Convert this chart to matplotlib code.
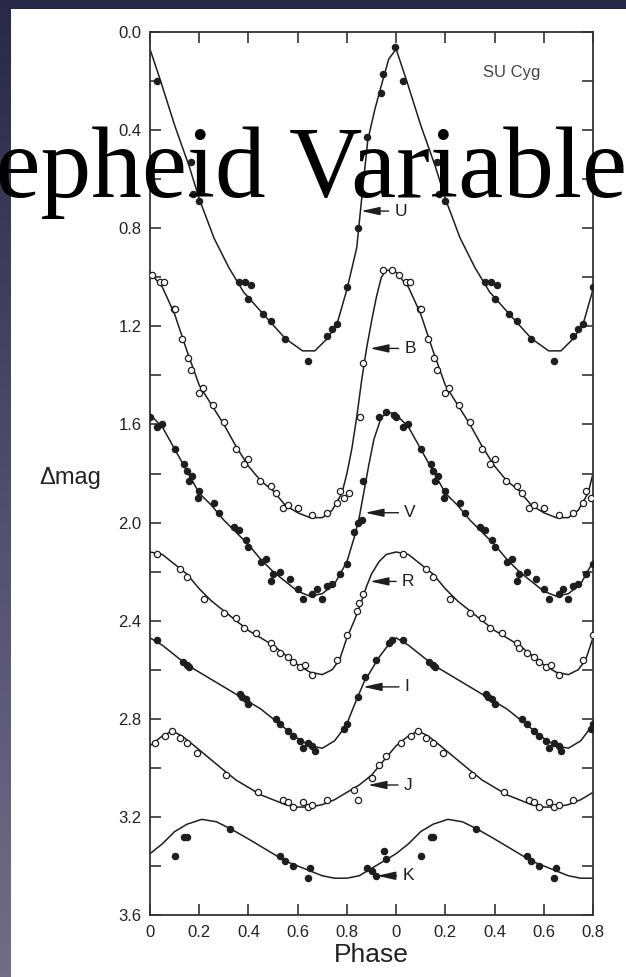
import numpy as np
import matplotlib.pyplot as plt
from matplotlib.patches import Rectangle

plt.rcParams['font.family'] = 'Liberation Sans'

# Fitted light curves over one pulsation cycle (phase, delta mag)
u_fit_phase = [0.00, 0.04, 0.10, 0.16, 0.20, 0.26, 0.32, 0.38, 0.46, 0.55, 0.62, 0.67,
               0.72, 0.76, 0.80, 0.84, 0.86, 0.885, 0.915, 0.945, 0.97]
u_fit_mag = [0.07, 0.19, 0.38, 0.55, 0.68, 0.84, 0.96, 1.06, 1.15, 1.25, 1.30, 1.30,
             1.25, 1.19, 1.05, 0.88, 0.68, 0.44, 0.31, 0.20, 0.11]

b_fit_phase = [0.00, 0.05, 0.10, 0.15, 0.20, 0.25, 0.30, 0.35, 0.40, 0.45, 0.50, 0.55, 0.60,
               0.65, 0.70, 0.74, 0.78, 0.80, 0.82, 0.84, 0.86, 0.88, 0.90, 0.92, 0.94, 0.96]
b_fit_mag = [0.98, 1.04, 1.15, 1.30, 1.44, 1.52, 1.60, 1.69, 1.77, 1.83, 1.87, 1.93, 1.96,
             1.98, 1.98, 1.95, 1.88, 1.80, 1.70, 1.57, 1.42, 1.29, 1.18, 1.08, 1.00, 0.97]

v_fit_phase = [0.00, 0.05, 0.10, 0.15, 0.20, 0.25, 0.30, 0.35, 0.40, 0.45, 0.50, 0.55,
               0.60, 0.65, 0.70, 0.75, 0.80, 0.83, 0.85, 0.87, 0.89, 0.91, 0.94, 0.97]
v_fit_mag = [1.56, 1.61, 1.70, 1.79, 1.88, 1.93, 1.99, 2.04, 2.09, 2.15, 2.20, 2.24,
             2.28, 2.30, 2.29, 2.25, 2.16, 2.06, 1.98, 1.87, 1.76, 1.66, 1.57, 1.55]

r_fit_phase = [0.00, 0.05, 0.10, 0.15, 0.20, 0.25, 0.30, 0.35, 0.40, 0.45, 0.50, 0.55,
               0.60, 0.65, 0.70, 0.74, 0.77, 0.80, 0.83, 0.86, 0.88, 0.90, 0.93, 0.96]
r_fit_mag = [2.12, 2.13, 2.17, 2.21, 2.27, 2.32, 2.36, 2.40, 2.44, 2.47, 2.50, 2.54,
             2.58, 2.61, 2.62, 2.60, 2.56, 2.47, 2.40, 2.32, 2.26, 2.21, 2.16, 2.13]

i_fit_phase = [0.00, 0.05, 0.10, 0.15, 0.20, 0.25, 0.30, 0.35, 0.40, 0.45, 0.50, 0.55,
               0.60, 0.65, 0.70, 0.75, 0.78, 0.80, 0.82, 0.84, 0.87, 0.90, 0.93, 0.96]
i_fit_mag = [2.47, 2.50, 2.54, 2.58, 2.61, 2.64, 2.67, 2.70, 2.73, 2.76, 2.80, 2.84,
             2.88, 2.91, 2.92, 2.89, 2.85, 2.82, 2.77, 2.72, 2.65, 2.60, 2.55, 2.51]

j_fit_phase = [0.00, 0.05, 0.09, 0.13, 0.18, 0.24, 0.30, 0.35, 0.40, 0.45, 0.50, 0.55,
               0.60, 0.65, 0.70, 0.75, 0.80, 0.85, 0.90, 0.95]
j_fit_mag = [2.91, 2.87, 2.85, 2.87, 2.91, 2.96, 3.01, 3.05, 3.08, 3.11, 3.13, 3.15,
             3.16, 3.16, 3.15, 3.13, 3.10, 3.07, 3.03, 2.97]

k_fit_phase = [0.00, 0.05, 0.10, 0.15, 0.21, 0.27, 0.33, 0.40, 0.45, 0.50, 0.55, 0.60,
               0.65, 0.70, 0.75, 0.80, 0.85, 0.90, 0.95]
k_fit_mag = [3.35, 3.31, 3.26, 3.23, 3.21, 3.22, 3.25, 3.29, 3.32, 3.35, 3.38, 3.40,
             3.42, 3.44, 3.45, 3.45, 3.44, 3.41, 3.38]

# Observations folded on the period
u_obs_phase = [0.03, 0.165, 0.175, 0.20, 0.36, 0.385, 0.41, 0.40, 0.46, 0.49, 0.55, 0.64,
               0.72, 0.74, 0.76, 0.80, 0.845, 0.88, 0.94, 0.945, 0.995]
u_obs_mag = [0.20, 0.53, 0.66, 0.69, 1.02, 1.02, 1.03, 1.09, 1.15, 1.18, 1.25, 1.34,
             1.24, 1.21, 1.19, 1.04, 0.80, 0.43, 0.25, 0.17, 0.06]

b_obs_phase = [0.01, 0.04, 0.057, 0.097, 0.10, 0.13, 0.155, 0.165, 0.20, 0.215, 0.255, 0.30,
               0.35, 0.38, 0.40, 0.445, 0.49, 0.51, 0.54, 0.56, 0.60, 0.66, 0.72, 0.76,
               0.77, 0.79, 0.81, 0.853, 0.866, 0.945, 0.985]
b_obs_mag = [0.99, 1.02, 1.02, 1.13, 1.13, 1.25, 1.33, 1.38, 1.47, 1.45, 1.52, 1.59,
             1.70, 1.76, 1.74, 1.83, 1.85, 1.88, 1.94, 1.93, 1.94, 1.97, 1.96, 1.92,
             1.87, 1.90, 1.88, 1.57, 1.35, 0.97, 0.97]

v_obs_phase = [0.00, 0.03, 0.05, 0.10, 0.14, 0.15, 0.16, 0.17, 0.195, 0.20, 0.26, 0.28,
               0.34, 0.36, 0.39, 0.40, 0.45, 0.47, 0.49, 0.50, 0.53, 0.57, 0.60, 0.62,
               0.66, 0.68, 0.70, 0.72, 0.74, 0.77, 0.80, 0.83, 0.845, 0.86, 0.866, 0.93,
               0.96, 0.99]
v_obs_mag = [1.57, 1.61, 1.60, 1.70, 1.76, 1.79, 1.83, 1.81, 1.90, 1.87, 1.92, 1.96,
             2.02, 2.03, 2.07, 2.10, 2.16, 2.15, 2.24, 2.21, 2.20, 2.23, 2.27, 2.31,
             2.29, 2.27, 2.31, 2.26, 2.25, 2.21, 2.17, 2.04, 2.00, 1.99, 1.83, 1.57,
             1.55, 1.56]

r_obs_phase = [0.03, 0.12, 0.15, 0.22, 0.30, 0.35, 0.38, 0.43, 0.49, 0.50, 0.53, 0.56,
               0.58, 0.61, 0.63, 0.66, 0.76, 0.80, 0.84, 0.85, 0.866]
r_obs_mag = [2.13, 2.19, 2.22, 2.31, 2.37, 2.39, 2.43, 2.45, 2.49, 2.51, 2.53, 2.55,
             2.57, 2.59, 2.58, 2.62, 2.56, 2.46, 2.36, 2.33, 2.29]

i_obs_phase = [0.03, 0.135, 0.15, 0.16, 0.365, 0.375, 0.39, 0.40, 0.51, 0.53, 0.56, 0.58,
               0.61, 0.62, 0.64, 0.66, 0.67, 0.79, 0.80, 0.845, 0.874, 0.92, 0.97, 0.985]
i_obs_mag = [2.48, 2.57, 2.58, 2.59, 2.70, 2.71, 2.72, 2.74, 2.80, 2.82, 2.85, 2.87,
             2.89, 2.92, 2.90, 2.91, 2.93, 2.84, 2.82, 2.71, 2.63, 2.56, 2.49, 2.48]

j_obs_phase = [0.02, 0.06, 0.09, 0.12, 0.15, 0.19, 0.31, 0.44, 0.54, 0.56, 0.58, 0.62,
               0.64, 0.66, 0.72, 0.83, 0.845, 0.90, 0.93, 0.96]
j_obs_mag = [2.90, 2.87, 2.85, 2.88, 2.90, 2.94, 3.03, 3.10, 3.13, 3.14, 3.16, 3.14,
             3.16, 3.15, 3.13, 3.09, 3.13, 3.04, 2.99, 2.95]

k_obs_phase = [0.10, 0.14, 0.15, 0.325, 0.53, 0.55, 0.58, 0.64, 0.65, 0.88, 0.90, 0.92,
               0.95, 0.96]
k_obs_mag = [3.36, 3.28, 3.28, 3.25, 3.36, 3.38, 3.40, 3.45, 3.41, 3.41, 3.42, 3.44,
             3.34, 3.37]

# Band labels with an arrow pointing at each curve
band_labels = ['U', 'B', 'V', 'R', 'I', 'J', 'K']
label_tip_phase = [0.858, 0.894, 0.874, 0.894, 0.866, 0.886, 0.922]
label_mag = [0.73, 1.29, 1.96, 2.24, 2.67, 3.07, 3.44]
label_text_phase = [1.018, 1.056, 1.056, 1.048, 1.044, 1.048, 1.048]

phase_ticks = [0.0, 0.2, 0.4, 0.6, 0.8, 1.0, 1.2, 1.4, 1.6, 1.8]
phase_tick_labels = ['0', '0.2', '0.4', '0.6', '0.8', '0', '0.2', '0.4', '0.6', '0.8']
mag_ticks = [0.0, 0.4, 0.8, 1.2, 1.6, 2.0, 2.4, 2.8, 3.2, 3.6]


def two_cycles(phase, mag):
    # repeat the folded cycle and cut it at phase 1.8
    p = np.concatenate([phase, np.asarray(phase) + 1.0])
    m = np.concatenate([mag, mag])
    keep = p <= 1.8001
    return p[keep], m[keep]


fig = plt.figure(figsize=(6.26, 9.77), dpi=100)
fig.patch.set_facecolor('white')

# dark slide frame: top band and shaded strip on the left
fig.add_artist(Rectangle((0, 1 - 9 / 977), 1, 9 / 977, transform=fig.transFigure,
                         facecolor='#272747', edgecolor='none', zorder=0))
strip = fig.add_axes([0, 0, 11 / 626, 1 - 9 / 977])
strip.imshow(np.linspace(0, 1, 256).reshape(-1, 1), aspect='auto',
             cmap=plt.matplotlib.colors.LinearSegmentedColormap.from_list(
                 'strip', ['#29294a', '#504e6e', '#716d88']))
strip.axis('off')

ax = fig.add_axes([150 / 626, 1 - 915 / 977, 443 / 626, 883 / 977])

ink = '#1e1e1e'
bands = [
    (u_fit_phase, u_fit_mag, u_obs_phase, u_obs_mag, True),
    (b_fit_phase, b_fit_mag, b_obs_phase, b_obs_mag, False),
    (v_fit_phase, v_fit_mag, v_obs_phase, v_obs_mag, True),
    (r_fit_phase, r_fit_mag, r_obs_phase, r_obs_mag, False),
    (i_fit_phase, i_fit_mag, i_obs_phase, i_obs_mag, True),
    (j_fit_phase, j_fit_mag, j_obs_phase, j_obs_mag, False),
    (k_fit_phase, k_fit_mag, k_obs_phase, k_obs_mag, True),
]
for fit_p, fit_m, obs_p, obs_m, filled in bands:
    p, m = two_cycles(fit_p, fit_m)
    ax.plot(p, m, color=ink, lw=1.1, zorder=2)
    p, m = two_cycles(obs_p, obs_m)
    ax.plot(p, m, 'o', ms=4.5, mec=ink, mew=0.9,
            mfc=ink if filled else 'white', zorder=3)

for name, tip_p, mag, text_p in zip(band_labels, label_tip_phase, label_mag, label_text_phase):
    ax.annotate(name, xy=(tip_p, mag), xytext=(text_p, mag),
                ha='center', va='center', fontsize=12.5, color=ink,
                arrowprops=dict(arrowstyle='-|>,head_length=0.9,head_width=0.2',
                                color=ink, lw=1.0, shrinkA=2, shrinkB=0))

ax.text(1.47, 0.165, 'SU Cyg', fontsize=12, color='#444444', ha='center', va='center')

ax.set_xlim(0, 1.8)
ax.set_ylim(3.6, 0.0)
ax.set_xticks(phase_ticks)
ax.set_xticklabels(phase_tick_labels)
ax.set_yticks(mag_ticks)
ax.set_yticklabels(['%.1f' % t for t in mag_ticks])
ax.set_yticks(np.arange(0.2, 3.6, 0.4), minor=True)
ax.tick_params(which='both', direction='in', top=True, right=True, length=8,
               width=1.2, color='#333333', labelsize=12, labelcolor='#222222')
ax.tick_params(axis='x', pad=7)
ax.tick_params(axis='y', pad=6)
for side in ax.spines.values():
    side.set_linewidth(1.3)
    side.set_color('#333333')

ax.set_xlabel('Phase', fontsize=19, color='#222222', labelpad=2)
fig.text(70 / 626, 1 - 478 / 977, '\u0394mag', fontsize=17, color='#222222',
         ha='center', va='center')

# slide title over the figure
fig.text(-72 / 626, 1 - 197 / 977, 'Cepheid Variables', family='Liberation Serif',
         fontsize=73, color='black', ha='left', va='baseline', zorder=10)

fig.savefig('out.png', dpi=100)
